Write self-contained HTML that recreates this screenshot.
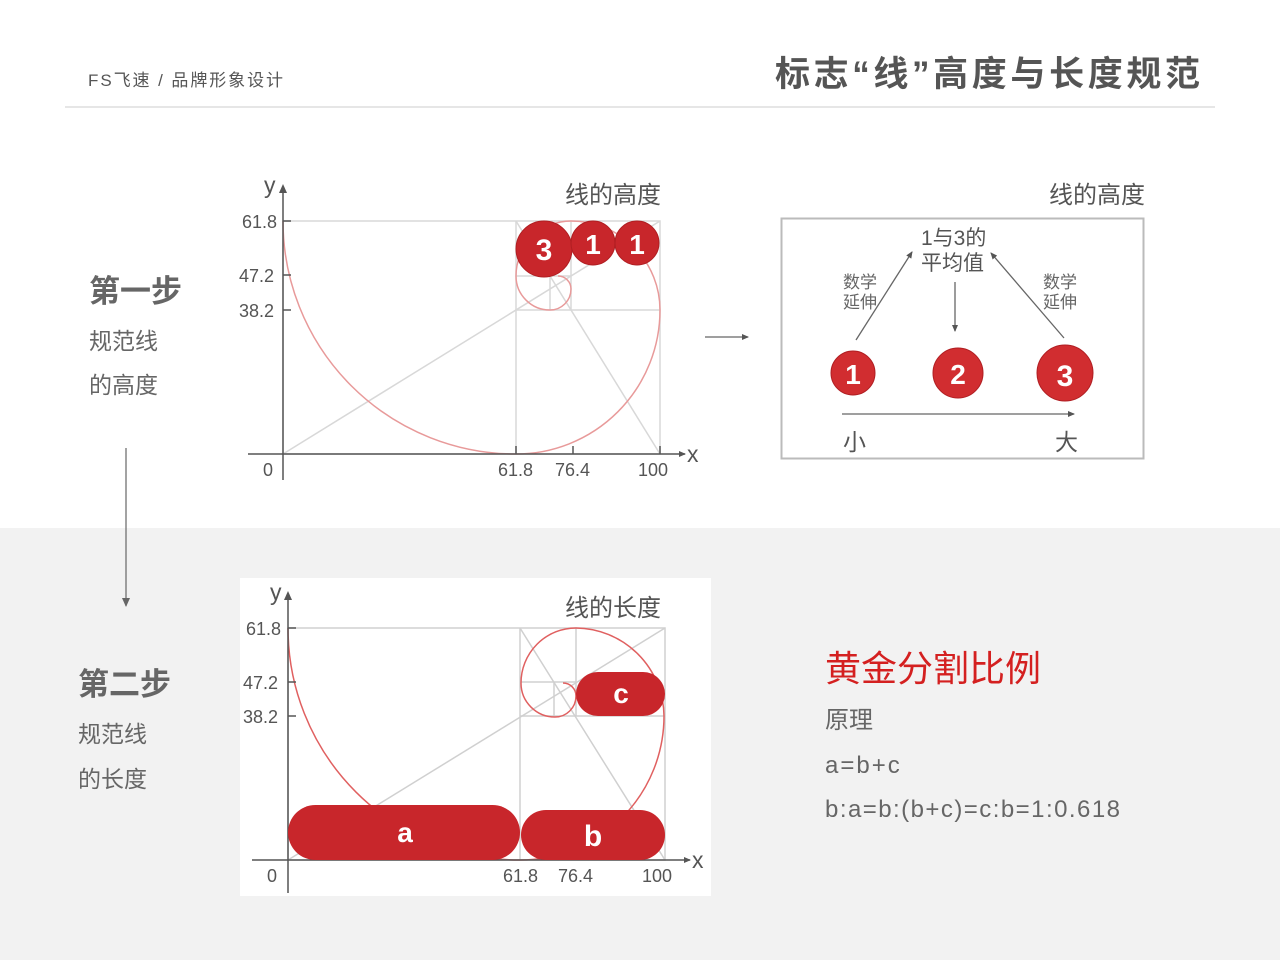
<!DOCTYPE html>
<html><head><meta charset="utf-8"><style>
body{margin:0;width:1280px;height:960px;overflow:hidden;background:#fff;}
svg text{font-family:"Liberation Sans","Noto Sans CJK SC",sans-serif;}
</style></head><body>
<svg width="1280" height="960" viewBox="0 0 1280 960" xmlns="http://www.w3.org/2000/svg">
<defs>
<marker id="ar" markerWidth="10" markerHeight="10" refX="8" refY="5" orient="auto" markerUnits="userSpaceOnUse"><path d="M0,1 L9,5 L0,9 z" fill="#666"/></marker>
<marker id="ar2" markerWidth="8" markerHeight="8" refX="6" refY="4" orient="auto" markerUnits="userSpaceOnUse"><path d="M0,1 L7,4 L0,7 z" fill="#555"/></marker>
</defs>
<rect x="0" y="528" width="1280" height="432" fill="#f2f2f2"/>
<!-- header -->
<text x="88" y="86" font-size="17" fill="#555" textLength="195" lengthAdjust="spacing">FS飞速  /   品牌形象设计</text>
<text x="775" y="86" font-size="35" font-weight="bold" fill="#555" textLength="425" lengthAdjust="spacing">标志“线”高度与长度规范</text>
<line x1="65" y1="107" x2="1215" y2="107" stroke="#ccc" stroke-width="1"/>
<!-- left labels -->
<text x="89" y="302" font-size="31" font-weight="bold" fill="#666">第一步</text>
<text x="89" y="349" font-size="23" fill="#666">规范线</text>
<text x="89" y="393" font-size="23" fill="#666">的高度</text>
<line x1="126" y1="448" x2="126" y2="606" stroke="#666" stroke-width="1.2" marker-end="url(#ar)"/>
<text x="78" y="695" font-size="31" font-weight="bold" fill="#666">第二步</text>
<text x="78" y="742" font-size="23" fill="#666">规范线</text>
<text x="78" y="787" font-size="23" fill="#666">的长度</text>

<!-- top chart -->
<g stroke="#d8d8d8" stroke-width="1.5" fill="none">
<rect x="283" y="221" width="377" height="233"/>
<line x1="516" y1="221" x2="516" y2="454"/>
<line x1="516" y1="310" x2="660" y2="310"/>
<line x1="571" y1="221" x2="571" y2="310"/>
<line x1="516" y1="276" x2="571" y2="276"/>
<line x1="550" y1="276" x2="550" y2="310"/>
<line x1="283" y1="454" x2="660" y2="221"/>
<line x1="516" y1="221" x2="660" y2="454"/>
</g>
<path d="M283,221 A233,233 0 0 0 516,454 A144,144 0 0 0 660,310 A89,89 0 0 0 571,221 A55,55 0 0 0 516,276 A34,34 0 0 0 550,310 A21,21 0 0 0 571,289 A13,13 0 0 0 558,276" fill="none" stroke="#e89a9a" stroke-width="1.5"/>
<g stroke="#555" stroke-width="1.5">
<line x1="283" y1="190" x2="283" y2="480"/>
<line x1="248" y1="454" x2="685" y2="454" marker-end="url(#ar2)"/>
<line x1="283" y1="221" x2="291" y2="221"/><line x1="283" y1="275" x2="291" y2="275"/><line x1="283" y1="310" x2="291" y2="310"/>
<line x1="516" y1="446" x2="516" y2="454"/><line x1="573" y1="446" x2="573" y2="454"/><line x1="660" y1="446" x2="660" y2="454"/>
</g>
<path d="M279,193 L283,184 L287,193z" fill="#555"/>
<g font-size="18" fill="#555">
<text x="264" y="193" font-size="23">y</text>
<text x="242" y="228">61.8</text><text x="239" y="282">47.2</text><text x="239" y="317">38.2</text>
<text x="263" y="476">0</text><text x="498" y="476">61.8</text><text x="555" y="476">76.4</text><text x="638" y="476">100</text>
<text x="687" y="462" font-size="23">x</text>
</g>
<text x="565" y="203" font-size="24" fill="#555">线的高度</text>
<g fill="#c8262b" stroke="#b01e22" stroke-width="1"><circle cx="544" cy="249" r="28"/><circle cx="593" cy="243" r="22"/><circle cx="637" cy="243" r="22"/></g>
<g fill="#fff" font-weight="bold" text-anchor="middle"><text x="544" y="260" font-size="30">3</text><text x="593" y="254" font-size="28">1</text><text x="637" y="254" font-size="28">1</text></g>

<line x1="705" y1="337" x2="748" y2="337" stroke="#666" stroke-width="1.2" marker-end="url(#ar2)"/>

<!-- right box -->
<text x="1049" y="203" font-size="24" fill="#555">线的高度</text>
<rect x="781.5" y="218.5" width="362" height="240" fill="#fff" stroke="#bbb" stroke-width="2"/>
<g font-size="21" fill="#555"><text x="921" y="245">1与3的</text><text x="921" y="270">平均值</text></g>
<g font-size="17" fill="#666"><text x="843" y="288">数学</text><text x="843" y="308">延伸</text><text x="1043" y="288">数学</text><text x="1043" y="308">延伸</text></g>
<g stroke="#666" stroke-width="1.3">
<line x1="856" y1="340" x2="912" y2="252" marker-end="url(#ar2)"/>
<line x1="1064" y1="338" x2="991" y2="253" marker-end="url(#ar2)"/>
<line x1="955" y1="282" x2="955" y2="331" marker-end="url(#ar2)"/>
<line x1="842" y1="414" x2="1074" y2="414" marker-end="url(#ar2)"/>
</g>
<g fill="#d12d30" stroke="#b01e22"><circle cx="853" cy="373" r="22"/><circle cx="958" cy="373" r="25"/><circle cx="1065" cy="373" r="28"/></g>
<g fill="#fff" font-weight="bold" text-anchor="middle"><text x="853" y="384" font-size="28">1</text><text x="958" y="384" font-size="28">2</text><text x="1065" y="386" font-size="30">3</text></g>
<g font-size="23" fill="#555"><text x="843" y="450">小</text><text x="1055" y="450">大</text></g>

<!-- bottom chart -->
<rect x="240" y="578" width="471" height="318" fill="#fff"/>
<g stroke="#d0d0d0" stroke-width="1.5" fill="none">
<rect x="288" y="628" width="377" height="232"/>
<line x1="520" y1="628" x2="520" y2="860"/>
<line x1="520" y1="716" x2="665" y2="716"/>
<line x1="576" y1="628" x2="576" y2="716"/>
<line x1="520" y1="682" x2="576" y2="682"/>
<line x1="554" y1="682" x2="554" y2="716"/>
<line x1="288" y1="860" x2="665" y2="628"/>
<line x1="520" y1="628" x2="665" y2="860"/>
</g>
<path d="M288,628 A232,232 0 0 0 520,860 A144,144 0 0 0 664,716 A89,89 0 0 0 576,628 A55,55 0 0 0 521,683 A34,34 0 0 0 555,717 A21,21 0 0 0 576,696 A13,13 0 0 0 563,683" fill="none" stroke="#e06060" stroke-width="1.5"/>
<g stroke="#555" stroke-width="1.5">
<line x1="288" y1="597" x2="288" y2="893"/>
<line x1="252" y1="860" x2="690" y2="860" marker-end="url(#ar2)"/>
<line x1="288" y1="628" x2="296" y2="628"/><line x1="288" y1="682" x2="296" y2="682"/><line x1="288" y1="716" x2="296" y2="716"/>
</g>
<path d="M284,600 L288,591 L292,600z" fill="#555"/>
<g font-size="18" fill="#555">
<text x="270" y="600" font-size="23">y</text>
<text x="246" y="635">61.8</text><text x="243" y="689">47.2</text><text x="243" y="723">38.2</text>
<text x="267" y="882">0</text><text x="503" y="882">61.8</text><text x="558" y="882">76.4</text><text x="642" y="882">100</text>
<text x="692" y="868" font-size="23">x</text>
</g>
<text x="565" y="616" font-size="24" fill="#555">线的长度</text>
<g fill="#c8262b">
<rect x="288" y="805" width="232" height="55" rx="27.5"/>
<rect x="521" y="810" width="144" height="50" rx="25"/>
<rect x="576" y="672" width="89" height="44" rx="22"/>
</g>
<g fill="#fff" font-weight="bold" text-anchor="middle"><text x="405" y="842" font-size="28">a</text><text x="593" y="846" font-size="30">b</text><text x="621" y="703" font-size="28">c</text></g>

<!-- bottom right text -->
<text x="825" y="681" font-size="36" fill="#d42020">黄金分割比例</text>
<g font-size="24" fill="#666"><text x="825" y="728">原理</text><text x="825" y="773" letter-spacing="2">a=b+c</text><text x="825" y="817" textLength="295" lengthAdjust="spacing">b:a=b:(b+c)=c:b=1:0.618</text></g>
</svg>
</body></html>
